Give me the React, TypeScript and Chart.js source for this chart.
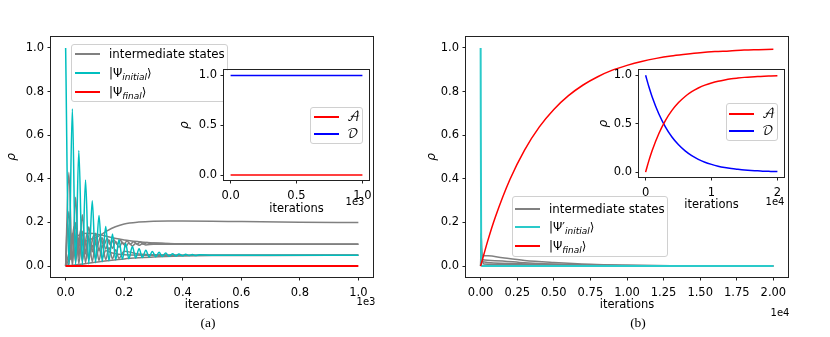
import React, { useEffect, useRef } from "react";
import { Chart, registerables } from "chart.js";
Chart.register(...registerables);

// ---------------- Panel (a) main data ----------------
const aTicksX = [0, 200, 400, 600, 800, 1000];
const aTicksY = [0, 0.2, 0.4, 0.6, 0.8, 1.0];
const aRedX = [0, 1000];
const aRedY = [0, 0];
const aCyanX = [0, 11, 23, 34, 45, 57, 68, 79, 91, 102, 114, 125, 137, 148, 160, 171, 182, 194, 205, 216, 228, 239, 251, 262, 274, 285, 296, 308, 319, 330, 342, 353, 365, 376, 387, 399, 410, 421, 433, 444, 456, 500, 600, 1000];
const aCyanY = [1.0, 0.0, 0.72, 0.0, 0.53, 0.005, 0.395, 0.01, 0.3, 0.015, 0.232, 0.02, 0.182, 0.024, 0.147, 0.028, 0.121, 0.031, 0.103, 0.034, 0.09, 0.037, 0.08, 0.039, 0.073, 0.041, 0.067, 0.043, 0.063, 0.044, 0.06, 0.045, 0.057, 0.046, 0.055, 0.047, 0.054, 0.048, 0.053, 0.048, 0.052, 0.05, 0.05, 0.05];
const aG1X = [0, 20, 50, 80, 110, 140, 170, 200, 250, 300, 350, 400, 500, 600, 800, 1000];
const aG1Y = [0, 0.05, 0.1, 0.12, 0.135, 0.16, 0.18, 0.193, 0.202, 0.206, 0.207, 0.207, 0.206, 0.204, 0.201, 0.2];
const aG2X = [0, 11, 23, 34, 45, 57, 68, 79, 91, 102, 114, 125, 137, 148, 160, 171, 182, 194, 205, 216, 228, 239, 251, 262, 274, 300, 400, 1000];
const aG2Y = [0, 0.43, 0.02, 0.315, 0.04, 0.235, 0.055, 0.18, 0.065, 0.15, 0.072, 0.13, 0.078, 0.12, 0.082, 0.113, 0.086, 0.109, 0.089, 0.106, 0.092, 0.104, 0.095, 0.102, 0.097, 0.1, 0.1, 0.1];
const aG3X = [0, 6, 17, 28, 40, 51, 62, 74, 85, 96, 108, 119, 130, 142, 153, 164, 176, 187, 198, 210, 221, 232, 244, 255, 266, 278, 289, 300, 350, 450, 1000];
const aG3Y = [0, 0.2, 0.03, 0.18, 0.06, 0.165, 0.075, 0.152, 0.085, 0.142, 0.09, 0.134, 0.094, 0.127, 0.097, 0.122, 0.099, 0.118, 0.1, 0.115, 0.1, 0.112, 0.101, 0.11, 0.101, 0.108, 0.102, 0.106, 0.103, 0.101, 0.1];
const aG4X = [0, 20, 50, 80, 120, 160, 200, 250, 300, 400, 600, 1000];
const aG4Y = [0, 0.1, 0.145, 0.15, 0.142, 0.13, 0.12, 0.112, 0.106, 0.102, 0.1, 0.1];
const aG5X = [0, 50, 100, 150, 200, 250, 300, 400, 500, 700, 1000];
const aG5Y = [0, 0.008, 0.018, 0.026, 0.033, 0.038, 0.042, 0.046, 0.048, 0.049, 0.05];
const aG6X = [0, 11, 23, 34, 45, 57, 68, 79, 91, 102, 114, 125, 137, 148, 160, 171, 182, 200, 250, 300, 400, 1000];
const aG6Y = [0, 0.25, 0.0, 0.2, 0.01, 0.16, 0.015, 0.13, 0.02, 0.11, 0.025, 0.095, 0.03, 0.085, 0.033, 0.075, 0.036, 0.068, 0.055, 0.052, 0.05, 0.05];
const aG7X = [0, 11, 23, 34, 45, 57, 68, 79, 91, 102, 114, 125, 137, 160, 200, 300, 1000];
const aG7Y = [0, 0.01, 0.15, 0.02, 0.13, 0.025, 0.11, 0.03, 0.095, 0.035, 0.08, 0.038, 0.07, 0.06, 0.052, 0.05, 0.05];

// ---------------- Panel (a) inset data ----------------
const aInTicksX = [0, 500, 1000];
const aInTicksY = [0, 0.5, 1.0];
const aInAX = [0, 1000];
const aInAY = [0, 0];
const aInDX = [0, 1000];
const aInDY = [1, 1];

// ---------------- Panel (b) main data ----------------
const bTicksX = [0, 2500, 5000, 7500, 10000, 12500, 15000, 17500, 20000];
const bTicksY = [0, 0.2, 0.4, 0.6, 0.8, 1.0];
const bRedX = [0, 500, 1000, 2000, 3000, 4000, 5000, 6000, 7000, 8000, 9000, 10000, 11000, 12000, 13000, 14000, 15000, 16000, 17000, 18000, 19000, 20000];
const bRedY = [0, 0.119, 0.224, 0.397, 0.532, 0.637, 0.718, 0.781, 0.83, 0.868, 0.898, 0.92, 0.938, 0.952, 0.963, 0.971, 0.978, 0.983, 0.986, 0.99, 0.992, 0.994];
const bCyanX = [0, 40, 80, 20000];
const bCyanY = [1.0, 0.01, 0.0, 0.0];
const bG1X = [0, 30, 100, 500, 1500, 3000, 5000, 7500, 10000, 13000, 20000];
const bG1Y = [0, 0.15, 0.05, 0.047, 0.038, 0.026, 0.017, 0.009, 0.005, 0.002, 0];
const bG2X = [0, 30, 100, 1000, 3000, 6000, 10000, 20000];
const bG2Y = [0, 0.1, 0.03, 0.025, 0.015, 0.007, 0.002, 0];
const bG3X = [0, 40, 150, 2000, 5000, 10000, 20000];
const bG3Y = [0, 0.06, 0.02, 0.012, 0.006, 0.002, 0];
const bG4X = [0, 50, 200, 3000, 8000, 20000];
const bG4Y = [0, 0.04, 0.01, 0.006, 0.002, 0];

// ---------------- Panel (b) inset data ----------------
const bInTicksX = [0, 10000, 20000];
const bInTicksY = [0, 0.5, 1.0];
const bInAX = bRedX;
const bInAY = bRedY;
const bInDX = [0, 500, 1000, 2000, 3000, 4000, 5000, 6000, 7000, 8000, 9000, 10000, 11000, 12000, 13000, 14000, 15000, 16000, 17000, 18000, 19000, 20000];
const bInDY = [1, 0.881, 0.776, 0.603, 0.468, 0.363, 0.282, 0.219, 0.17, 0.132, 0.102, 0.08, 0.062, 0.048, 0.037, 0.029, 0.022, 0.017, 0.014, 0.01, 0.008, 0.006];

const GRAY = "#808080";
const CYAN = "#00BFBF";
const CYAN_B = "#2ACACA";
const RED = "#FF0000";
const BLUE = "#0000FF";
const FONT = "'DejaVu Sans', Verdana, sans-serif";
const TICK_SIZE = 11.5;

type Series = { xs: number[]; ys: number[]; color: string; width?: number };
type Spec = {
  canvas: { x: number; y: number; w: number; h: number };
  area: { l: number; t: number; r: number; b: number };
  xMin: number; xMax: number; xTicks: number[]; xFmt: (v: number) => string;
  yTicks: number[]; yFmt: (v: number) => string;
  series: Series[];
  rhoPad: number; xTitlePad: number;
  fill: boolean; z: number;
};

const s = (xs: number[], ys: number[], color: string, width = 1.5): Series => ({ xs, ys, color, width });

const specA: Spec = {
  canvas: { x: 0, y: 0, w: 390, h: 320 },
  area: { l: 51, t: 37, r: 373, b: 277 },
  xMin: -50, xMax: 1050, xTicks: aTicksX, xFmt: (v) => (v / 1000).toFixed(1),
  yTicks: aTicksY, yFmt: (v) => v.toFixed(1),
  series: [s(aRedX, aRedY, RED, 2), s(aCyanX, aCyanY, CYAN), s(aG1X, aG1Y, GRAY), s(aG2X, aG2Y, GRAY), s(aG3X, aG3Y, GRAY), s(aG4X, aG4Y, GRAY), s(aG5X, aG5Y, GRAY), s(aG6X, aG6Y, GRAY), s(aG7X, aG7Y, GRAY)],
  rhoPad: 4.5, xTitlePad: 8.5, fill: false, z: 1,
};
const specAIn: Spec = {
  canvas: { x: 170, y: 60, w: 215, h: 160 },
  area: { l: 224, t: 70, r: 369, b: 180 },
  xMin: -50, xMax: 1050, xTicks: aInTicksX, xFmt: (v) => (v / 1000).toFixed(1),
  yTicks: aInTicksY, yFmt: (v) => v.toFixed(1),
  series: [s(aInAX, aInAY, RED), s(aInDX, aInDY, BLUE)],
  rhoPad: 7.8, xTitlePad: 4.5, fill: true, z: 3,
};
const specB: Spec = {
  canvas: { x: 415, y: 0, w: 390, h: 320 },
  area: { l: 466, t: 37, r: 788, b: 277 },
  xMin: -1000, xMax: 21000, xTicks: bTicksX, xFmt: (v) => (v / 10000).toFixed(2),
  yTicks: bTicksY, yFmt: (v) => v.toFixed(1),
  series: [s(bRedX, bRedY, RED), s(bCyanX, bCyanY, CYAN_B, 2), s(bG1X, bG1Y, GRAY), s(bG2X, bG2Y, GRAY), s(bG3X, bG3Y, GRAY), s(bG4X, bG4Y, GRAY)],
  rhoPad: 9.5, xTitlePad: 8.5, fill: false, z: 1,
};
const specBIn: Spec = {
  canvas: { x: 585, y: 60, w: 215, h: 160 },
  area: { l: 639, t: 69, r: 784, b: 177 },
  xMin: -1000, xMax: 21000, xTicks: bInTicksX, xFmt: (v) => String(Math.round(v / 10000)),
  yTicks: bInTicksY, yFmt: (v) => v.toFixed(1),
  series: [s(bInAX, bInAY, RED), s(bInDX, bInDY, BLUE)],
  rhoPad: 12.1, xTitlePad: 8, fill: true, z: 2,
};

function buildConfig(sp: Spec): any {
  const { canvas, area } = sp;
  const framePlugin = {
    id: "frame",
    beforeDraw(chart: any) {
      if (!sp.fill) return;
      const { ctx, chartArea: c } = chart;
      ctx.save();
      ctx.fillStyle = "#fff";
      ctx.fillRect(c.left, c.top, c.right - c.left, c.bottom - c.top);
      ctx.restore();
    },
    afterDatasetsDraw(chart: any) {
      const { ctx, chartArea: c } = chart;
      ctx.save();
      ctx.strokeStyle = "#222";
      ctx.lineWidth = 1;
      ctx.strokeRect(Math.round(c.left) - 0.5, Math.round(c.top) - 0.5, Math.round(c.right - c.left) + 1, Math.round(c.bottom - c.top) + 1);
      ctx.restore();
    },
  };
  const tickFont = { family: FONT, size: TICK_SIZE };
  return {
    type: "line",
    data: {
      datasets: sp.series.map((se) => ({
        data: se.xs.map((x, i) => ({ x, y: se.ys[i] })),
        borderColor: se.color,
        borderWidth: se.width ?? 1.5,
        pointRadius: 0,
        fill: false,
        cubicInterpolationMode: "monotone",
      })),
    },
    options: {
      animation: false,
      responsive: false,
      maintainAspectRatio: false,
      devicePixelRatio: 1,
      events: [],
      layout: { padding: { left: 0, top: area.t - canvas.y, right: canvas.x + canvas.w - area.r, bottom: 0 } },
      plugins: { legend: { display: false }, tooltip: { enabled: false } },
      scales: {
        x: {
          type: "linear",
          min: sp.xMin,
          max: sp.xMax,
          afterBuildTicks: (sc: any) => { sc.ticks = sp.xTicks.map((v) => ({ value: v })); },
          afterFit: (sc: any) => { sc.height = canvas.y + canvas.h - area.b; },
          ticks: { callback: (v: number) => sp.xFmt(v), autoSkip: false, maxRotation: 0, minRotation: 0, padding: 5.5, color: "#000", font: tickFont },
          grid: { drawOnChartArea: false, drawTicks: true, tickLength: 3.5, color: "#222", lineWidth: 1 },
          border: { display: false },
          title: { display: true, text: "iterations", color: "#000", font: { family: FONT, size: TICK_SIZE }, padding: { top: 0, bottom: sp.xTitlePad } },
        },
        y: {
          type: "linear",
          min: -0.05,
          max: 1.05,
          afterBuildTicks: (sc: any) => { sc.ticks = sp.yTicks.map((v) => ({ value: v })); },
          afterFit: (sc: any) => { sc.width = area.l - canvas.x; },
          ticks: { callback: (v: number) => sp.yFmt(v), autoSkip: false, padding: 3.5, color: "#000", font: tickFont },
          grid: { drawOnChartArea: false, drawTicks: true, tickLength: 3.5, color: "#222", lineWidth: 1 },
          border: { display: false },
          title: { display: true, text: "ρ", color: "#000", font: { family: FONT, size: 12, style: "italic" }, padding: { top: sp.rhoPad, bottom: 0 } },
        },
      },
    },
    plugins: [framePlugin],
  };
}

function PanelChart({ sp }: { sp: Spec }) {
  const ref = useRef<HTMLCanvasElement>(null);
  useEffect(() => {
    const chart = new Chart(ref.current as HTMLCanvasElement, buildConfig(sp));
    return () => chart.destroy();
  }, []);
  const { x, y, w, h } = sp.canvas;
  return (
    <canvas
      ref={ref}
      width={w}
      height={h}
      style={{ position: "absolute", left: x, top: y, width: w, height: h, zIndex: sp.z }}
    />
  );
}

type LegendRow = { y: number; color: string; label: React.ReactNode };
function Legend({ box, rows, hx, hw, tx, z, fontSize = 11.8 }: { box: { l: number; t: number; w: number; h: number }; rows: LegendRow[]; hx: number; hw: number; tx: number; z: number; fontSize?: number }) {
  return (
    <>
      <div style={{ position: "absolute", left: box.l, top: box.t, width: box.w, height: box.h, boxSizing: "border-box", border: "1px solid #d0d0d0", borderRadius: 3, background: "rgba(255,255,255,0.8)", zIndex: z }} />
      {rows.map((r, i) => (
        <React.Fragment key={i}>
          <div style={{ position: "absolute", left: hx, top: Math.round(r.y) - 1, width: hw, height: 2, background: r.color, zIndex: z }} />
          <div style={{ position: "absolute", left: tx, top: r.y - 9, height: 18, lineHeight: "18px", fontFamily: FONT, fontSize, color: "#000", whiteSpace: "nowrap", zIndex: z }}>{r.label}</div>
        </React.Fragment>
      ))}
    </>
  );
}

const sub = (t: string) => (
  <span style={{ fontSize: 9, fontStyle: "italic", position: "relative", top: 3 }}>{t}</span>
);
const calA = <span style={{ fontFamily: "'DejaVu Math TeX Gyre', 'DejaVu Serif', serif", fontSize: 12.5 }}>𝒜</span>;
const calD = <span style={{ fontFamily: "'DejaVu Math TeX Gyre', 'DejaVu Serif', serif", fontSize: 12.5 }}>𝒟</span>;

function Txt({ x, y, text, size, family = FONT, z = 5 }: { x: number; y: number; text: string; size: number; family?: string; z?: number }) {
  return (
    <div style={{ position: "absolute", left: x, top: y, transform: "translate(-50%,-50%)", fontFamily: family, fontSize: size, color: "#000", whiteSpace: "nowrap", lineHeight: 1, zIndex: z }}>{text}</div>
  );
}

export default function App() {
  return (
    <div style={{ position: "absolute", left: 0, top: 0, width: 830, height: 337, background: "#fff", overflow: "hidden" }}>
      <PanelChart sp={specA} />
      <Legend
        box={{ l: 71, t: 44, w: 157, h: 58 }}
        hx={75} hw={25} tx={109} z={2}
        rows={[
          { y: 54, color: GRAY, label: "intermediate states" },
          { y: 72.7, color: CYAN, label: <>|Ψ{sub("initial")}⟩</> },
          { y: 91.7, color: RED, label: <>|Ψ{sub("final")}⟩</> },
        ]}
      />
      <PanelChart sp={specAIn} />
      <Legend
        box={{ l: 310, t: 107, w: 53, h: 37 }}
        hx={314} hw={25} tx={347} z={4}
        rows={[
          { y: 116.7, color: RED, label: calA },
          { y: 134, color: BLUE, label: calD },
        ]}
      />
      <Txt x={366} y={301.7} text="1e3" size={10} />
      <Txt x={355} y={201.7} text="1e3" size={10} />
      <Txt x={208} y={323} text="(a)" size={13.5} family="'Liberation Serif', 'Times New Roman', serif" />

      <PanelChart sp={specB} />
      <PanelChart sp={specBIn} />
      <Legend
        box={{ l: 512, t: 196, w: 156, h: 61 }}
        hx={515} hw={25} tx={549} z={4}
        rows={[
          { y: 209, color: GRAY, label: "intermediate states" },
          { y: 227.3, color: CYAN_B, label: <>|Ψ′{sub("initial")}⟩</> },
          { y: 246, color: RED, label: <>|Ψ{sub("final")}⟩</> },
        ]}
      />
      <Legend
        box={{ l: 726, t: 103, w: 52, h: 38 }}
        hx={729} hw={25} tx={762} z={4}
        rows={[
          { y: 114, color: RED, label: calA },
          { y: 131, color: BLUE, label: calD },
        ]}
      />
      <Txt x={780} y={313} text="1e4" size={10} />
      <Txt x={775} y={201.7} text="1e4" size={10} />
      <Txt x={638} y={323} text="(b)" size={13.5} family="'Liberation Serif', 'Times New Roman', serif" />
    </div>
  );
}
